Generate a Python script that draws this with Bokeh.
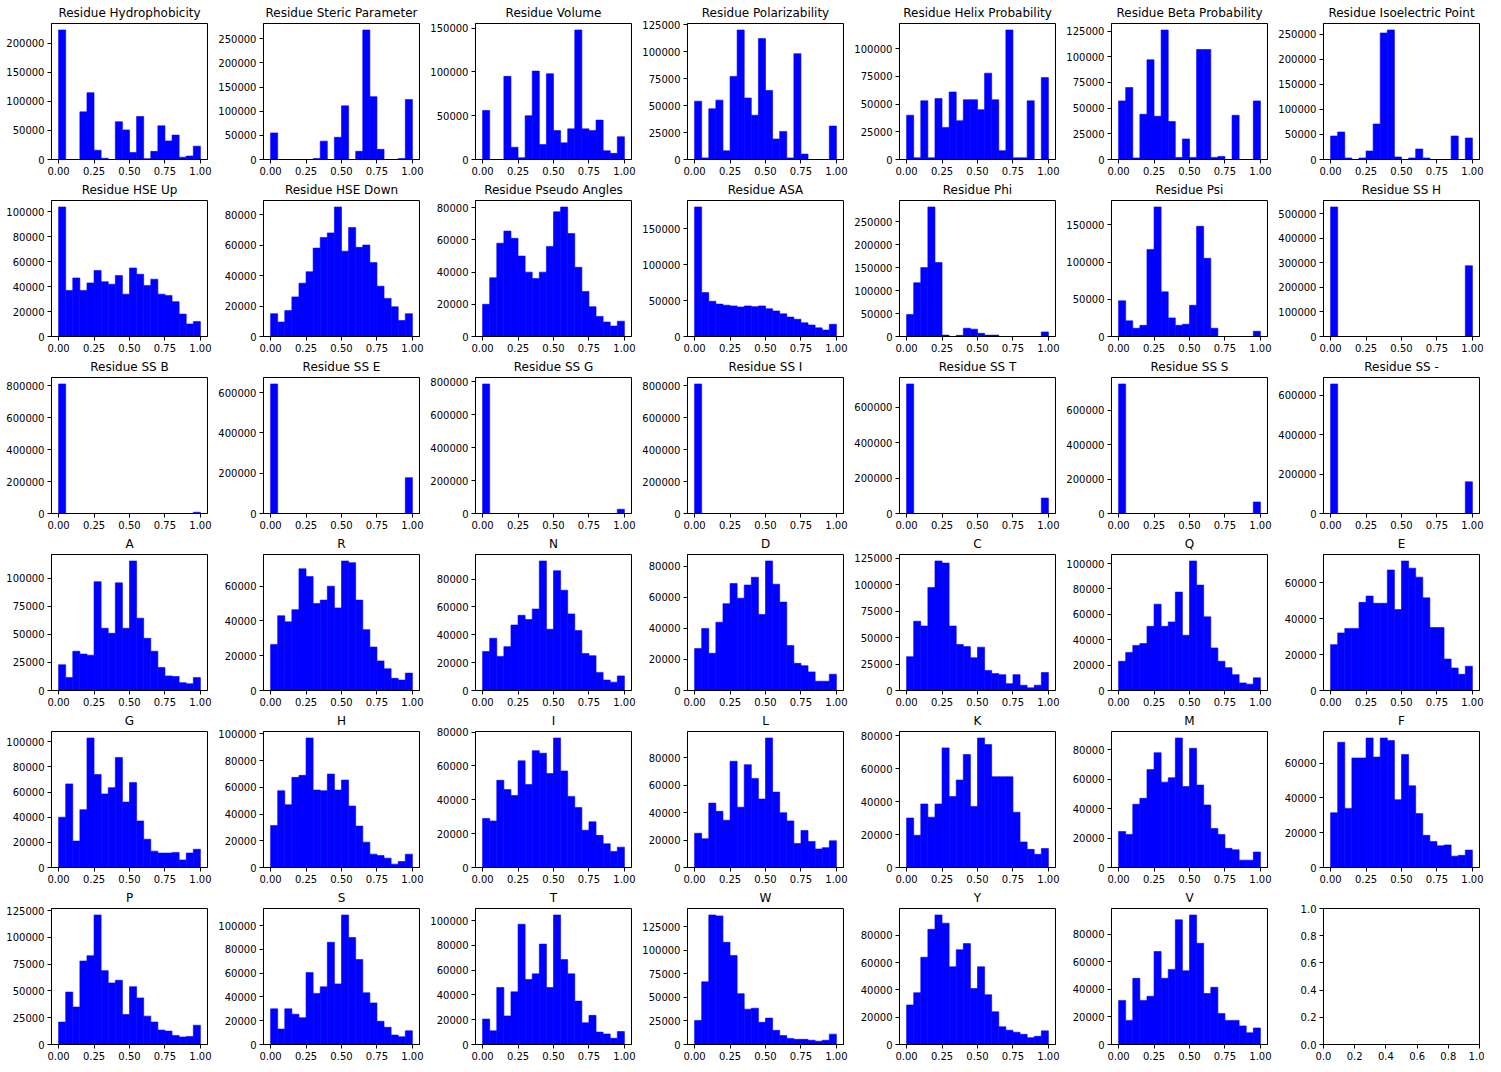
import numpy as np
from bokeh.plotting import figure
from bokeh.layouts import gridplot
from bokeh.models import Range1d, FixedTicker, NumeralTickFormatter
from bokeh.embed import file_html
from bokeh.resources import INLINE

# ---------------- data: 20-bin histogram counts on [0, 1] ----------------
hydrophobicity = [223000, 0, 0, 82000, 115000, 16000, 2000, 0, 65000, 51000, 12000, 74000, 1500, 14000, 58000, 32000, 42000, 4000, 6000, 23000]
steric = [55000, 0, 0, 0, 0, 0, 2000, 38000, 0, 46000, 111000, 0, 17000, 268000, 130000, 21000, 0, 0, 2000, 124000]
volume = [56000, 0, 0, 95000, 14000, 2000, 50000, 101000, 17000, 98000, 33000, 19000, 35000, 148000, 35000, 33000, 45000, 10000, 7000, 26000]
polarizability = [54000, 1500, 47000, 55000, 8000, 77000, 120000, 57000, 41000, 112000, 64000, 19000, 26000, 1500, 98000, 5000, 0, 0, 0, 31000]
helix = [40000, 1500, 53000, 1500, 55000, 29000, 61000, 35000, 54000, 54000, 45000, 78000, 54000, 8000, 117000, 1500, 1500, 53000, 0, 74000]
beta = [57000, 70000, 1500, 44000, 97000, 42000, 126000, 37000, 2000, 20000, 2000, 107000, 107000, 2000, 3000, 0, 43000, 0, 0, 57000]
isoelectric = [47000, 55000, 3000, 0, 3000, 17000, 71000, 253000, 259000, 5000, 0, 3000, 21000, 3000, 0, 0, 0, 47000, 0, 43000]
hse_up = [104000, 37000, 47000, 37000, 43000, 53000, 44000, 42000, 49000, 34000, 55000, 50000, 41000, 46000, 34000, 33000, 28000, 18000, 10000, 12000]
hse_down = [15000, 9500, 17000, 26000, 35000, 42500, 58000, 65000, 68000, 85000, 56000, 71500, 58500, 60000, 48500, 33000, 25000, 19500, 10500, 15000]
pseudo_angles = [20000, 36500, 58000, 65500, 61000, 50000, 40000, 36000, 40000, 56000, 77500, 80500, 64000, 43000, 28000, 18500, 12500, 9000, 6500, 9500]
asa = [180000, 61000, 49000, 45000, 43500, 42500, 41000, 42500, 41500, 42500, 38500, 35500, 31500, 27000, 24000, 19000, 16000, 12000, 9000, 17000]
phi = [48000, 117000, 150000, 282000, 161000, 3000, 0, 2500, 18000, 16000, 7000, 3000, 3000, 0, 0, 0, 0, 0, 0, 10000]
psi = [48000, 21000, 11000, 15000, 117000, 174000, 60000, 25000, 15000, 16500, 42000, 148000, 105000, 11000, 0, 0, 0, 0, 0, 7000]
ss_h = [527000, 0, 0, 0, 0, 0, 0, 0, 0, 0, 0, 0, 0, 0, 0, 0, 0, 0, 0, 288000]
ss_b = [810000, 0, 0, 0, 0, 0, 0, 0, 0, 0, 0, 0, 0, 0, 0, 0, 0, 0, 0, 8000]
ss_e = [643000, 0, 0, 0, 0, 0, 0, 0, 0, 0, 0, 0, 0, 0, 0, 0, 0, 0, 0, 178000]
ss_g = [787000, 0, 0, 0, 0, 0, 0, 0, 0, 0, 0, 0, 0, 0, 0, 0, 0, 0, 0, 26000]
ss_i = [810000, 0, 0, 0, 0, 0, 0, 0, 0, 0, 0, 0, 0, 0, 0, 0, 0, 0, 0, 300]
ss_t = [730000, 0, 0, 0, 0, 0, 0, 0, 0, 0, 0, 0, 0, 0, 0, 0, 0, 0, 0, 87000]
ss_s = [753000, 0, 0, 0, 0, 0, 0, 0, 0, 0, 0, 0, 0, 0, 0, 0, 0, 0, 0, 67000]
ss_dash = [658000, 0, 0, 0, 0, 0, 0, 0, 0, 0, 0, 0, 0, 0, 0, 0, 0, 0, 0, 161000]
aa_A = [23000, 11500, 35000, 32500, 31500, 97000, 55500, 51000, 96000, 55500, 115500, 64500, 46500, 35000, 20500, 13000, 12500, 7000, 6000, 11500]
aa_R = [26500, 43000, 39500, 46500, 70000, 65500, 50000, 52000, 60000, 47500, 74500, 73500, 52000, 35000, 25000, 17000, 12500, 7000, 6000, 10000]
aa_N = [28000, 37500, 24500, 31500, 47000, 54000, 51000, 58500, 93000, 44000, 86000, 72000, 55000, 43000, 26500, 25000, 13000, 7500, 6000, 10500]
aa_D = [27000, 40000, 24000, 44000, 56000, 69000, 59500, 68000, 73000, 49000, 83500, 68500, 57000, 29000, 17500, 16000, 12000, 6000, 6000, 10500]
aa_C = [32000, 65500, 61000, 97500, 122500, 120500, 61000, 43500, 41500, 31000, 41000, 19000, 16000, 15000, 6500, 15000, 5000, 2500, 5000, 17000]
aa_Q = [23000, 30000, 35500, 37000, 50500, 68000, 50500, 54000, 77500, 43500, 102000, 83000, 58000, 33500, 23000, 18000, 12500, 6000, 5000, 10000]
aa_E = [25500, 32000, 34500, 34500, 49000, 52500, 48500, 48500, 67000, 45000, 72000, 68000, 63000, 51500, 35000, 35000, 17500, 12500, 9000, 13500]
aa_G = [40000, 66500, 21000, 46000, 103000, 74000, 58500, 63500, 87500, 52000, 67500, 37000, 22500, 13000, 11500, 11500, 12000, 6000, 11500, 14500]
aa_H = [31500, 57500, 47000, 67500, 69000, 97000, 58000, 57500, 70000, 58000, 65500, 46000, 31000, 19000, 10000, 9000, 7000, 2500, 4500, 10000]
aa_I = [29000, 27500, 51500, 46000, 42500, 63000, 49000, 69000, 67500, 55500, 76500, 57000, 42000, 35500, 22000, 27000, 19000, 14000, 9500, 12000]
aa_L = [25000, 21000, 47000, 41000, 34500, 77500, 44000, 75000, 65000, 50000, 94500, 55000, 40000, 34000, 17500, 27000, 19000, 13500, 14500, 19500]
aa_K = [30000, 19500, 38500, 30500, 38500, 72500, 43000, 53000, 68500, 37000, 78500, 74500, 55000, 55000, 55000, 33500, 15500, 11000, 8000, 11500]
aa_M = [24500, 22500, 43000, 47000, 66500, 78000, 58000, 61000, 88000, 55000, 81000, 56000, 42500, 26500, 22500, 13000, 12000, 5000, 5000, 10500]
aa_F = [31500, 72000, 34000, 63000, 63000, 74500, 63500, 74500, 73000, 39000, 65000, 47000, 31000, 18500, 15000, 12500, 13000, 6500, 7000, 10000]
aa_P = [21000, 49000, 35000, 78000, 83000, 121000, 69000, 57500, 60000, 28000, 54000, 43500, 26500, 21000, 13500, 12500, 8500, 7000, 7500, 18000]
aa_S = [30000, 13000, 30000, 25500, 22500, 60500, 43000, 48500, 86000, 51000, 109000, 90000, 71500, 43500, 35000, 19500, 14500, 8000, 6500, 11500]
aa_T = [20500, 11000, 46000, 23000, 42500, 97000, 52500, 57000, 81000, 46000, 104500, 68500, 57000, 35000, 17500, 23500, 10000, 8500, 5000, 10500]
aa_W = [25500, 66500, 137500, 136500, 108500, 94500, 54000, 37500, 38500, 23500, 28000, 15000, 9500, 6500, 5500, 5500, 4500, 3500, 4500, 11000]
aa_Y = [29000, 38000, 64000, 84500, 95000, 89000, 57000, 69500, 74000, 41000, 57000, 36500, 24000, 13000, 10500, 9000, 7500, 5000, 6000, 10000]
aa_V = [32000, 17500, 48000, 32000, 35000, 67500, 48000, 54500, 90500, 53500, 94000, 73500, 37000, 41500, 22500, 17500, 17500, 13500, 8500, 12000]

titles = ["Residue Hydrophobicity", "Residue Steric Parameter", "Residue Volume",
          "Residue Polarizability", "Residue Helix Probability", "Residue Beta Probability",
          "Residue Isoelectric Point", "Residue HSE Up", "Residue HSE Down",
          "Residue Pseudo Angles", "Residue ASA", "Residue Phi", "Residue Psi",
          "Residue SS H", "Residue SS B", "Residue SS E", "Residue SS G", "Residue SS I",
          "Residue SS T", "Residue SS S", "Residue SS -",
          "A", "R", "N", "D", "C", "Q", "E", "G", "H", "I", "L", "K", "M", "F",
          "P", "S", "T", "W", "Y", "V"]
series = [hydrophobicity, steric, volume, polarizability, helix, beta, isoelectric,
          hse_up, hse_down, pseudo_angles, asa, phi, psi, ss_h,
          ss_b, ss_e, ss_g, ss_i, ss_t, ss_s, ss_dash,
          aa_A, aa_R, aa_N, aa_D, aa_C, aa_Q, aa_E,
          aa_G, aa_H, aa_I, aa_L, aa_K, aa_M, aa_F,
          aa_P, aa_S, aa_T, aa_W, aa_Y, aa_V]
# y tick spacing used by each panel
y_tick_steps = [50000, 50000, 50000, 25000, 25000, 25000, 50000,
                20000, 20000, 20000, 50000, 50000, 50000, 100000,
                200000, 200000, 200000, 200000, 200000, 200000, 200000,
                25000, 20000, 20000, 20000, 25000, 20000, 20000,
                20000, 20000, 20000, 20000, 20000, 20000, 20000,
                25000, 20000, 20000, 25000, 20000, 20000]
x_ticks = [0.0, 0.25, 0.5, 0.75, 1.0]
empty_ticks = [0.0, 0.2, 0.4, 0.6, 0.8, 1.0]
n_bins = 20

FONT = "DejaVu Sans"
W, H = 212, 177
BAR = "#0000ff"


def style(p):
    p.toolbar_location = None
    p.xgrid.visible = False
    p.ygrid.visible = False
    p.outline_line_color = "black"
    p.outline_line_width = 1
    p.outline_line_alpha = 1
    p.background_fill_color = "white"
    p.border_fill_color = "white"
    p.min_border_left = 51
    p.min_border_right = 5
    p.min_border_top = 4
    p.min_border_bottom = 6
    for ax in (p.xaxis[0], p.yaxis[0]):
        ax.axis_line_color = "black"
        ax.axis_line_width = 1
        ax.major_tick_line_color = "black"
        ax.major_tick_in = 0
        ax.major_tick_out = 4
        ax.minor_tick_line_color = None
        ax.major_label_text_font = FONT
        ax.major_label_text_font_size = "10px"
        ax.major_label_text_color = "black"
        ax.major_label_standoff = 3
    p.title.text_font = FONT
    p.title.text_font_size = "12px"
    p.title.text_font_style = "normal"
    p.title.align = "center"
    p.title.text_color = "black"
    p.title.standoff = 7


edges = np.linspace(0.0, 1.0, n_bins + 1)
figs = []
for title, counts, step in zip(titles, series, y_tick_steps):
    counts = np.asarray(counts, dtype=float)
    ymax = counts.max() * 1.05
    p = figure(width=W, height=H, title=title, output_backend="svg",
               toolbar_location=None, x_range=Range1d(-0.05, 1.05),
               y_range=Range1d(0, ymax))
    p.quad(left=edges[:-1], right=edges[1:], bottom=0, top=counts,
           fill_color=BAR, line_color=BAR, line_width=0.6)
    style(p)
    p.xaxis[0].ticker = FixedTicker(ticks=x_ticks)
    p.xaxis[0].formatter = NumeralTickFormatter(format="0.00")
    p.yaxis[0].ticker = FixedTicker(ticks=list(np.arange(0, ymax + 1, step)))
    p.yaxis[0].formatter = NumeralTickFormatter(format="0")
    figs.append(p)

# empty last panel
pe = figure(width=W, height=H, title=" ", output_backend="svg",
            toolbar_location=None, x_range=Range1d(0, 1), y_range=Range1d(0, 1))
style(pe)
pe.xaxis[0].ticker = FixedTicker(ticks=empty_ticks)
pe.yaxis[0].ticker = FixedTicker(ticks=empty_ticks)
pe.xaxis[0].formatter = NumeralTickFormatter(format="0.0")
pe.yaxis[0].formatter = NumeralTickFormatter(format="0.0")
figs.append(pe)

grid = gridplot(figs, ncols=7, toolbar_location=None)
open("out.html", "w").write(file_html(grid, INLINE))
